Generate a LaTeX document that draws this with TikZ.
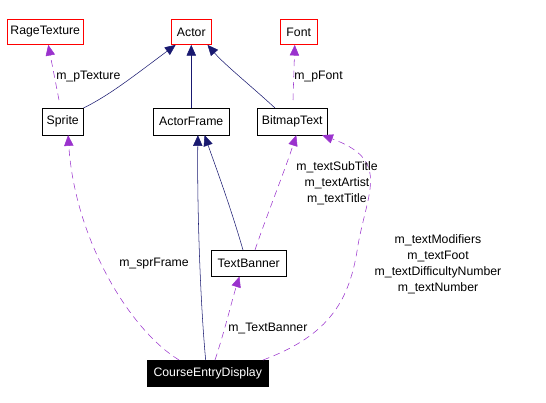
\documentclass[tikz,border=0pt]{standalone}
\usepackage{fontspec}
\setmainfont{Liberation Sans}
\usetikzlibrary{arrows.meta}
\definecolor{inh}{HTML}{191970}
\definecolor{use}{HTML}{9A32CD}
\begin{document}
\begin{tikzpicture}[x=0.75pt,y=-0.75pt,
  every node/.style={font=\fontsize{9.2}{12}\selectfont},
  cls/.style={draw=black,fill=white,inner sep=0pt,anchor=north west},
  ext/.style={cls,draw=red},
  mainc/.style={cls,fill=black,text=white},
  inhline/.style={draw=inh,thin,-{Triangle[length=8pt,width=7pt]}},
  useline/.style={draw=use,thin,dash pattern=on 5pt off 3.5pt,-{Triangle[length=8pt,width=7pt]}},
  lbl/.style={align=center,inner sep=0pt}]
\useasboundingbox (0,0) rectangle (546,403);
\node[ext,minimum width=57pt,minimum height=19pt] (rage) at (7,19) {RageTexture};
\node[ext,minimum width=30pt,minimum height=19pt] (actor) at (171,19) {Actor};
\node[ext,minimum width=27.75pt,minimum height=19pt] (font) at (280,19) {Font};
\node[cls,minimum width=30.75pt,minimum height=20pt] (sprite) at (42,108) {Sprite};
\node[cls,minimum width=57pt,minimum height=20pt] (aframe) at (153,108) {ActorFrame};
\node[cls,minimum width=52.5pt,minimum height=20pt] (btext) at (257,108) {BitmapText};
\node[cls,minimum width=56.25pt,minimum height=19.5pt] (tbanner) at (211,250) {TextBanner};
\node[mainc,minimum width=90.75pt,minimum height=19.5pt] (ced) at (147,360) {CourseEntryDisplay};
% inheritance
\draw[inhline] (sprite.north east) .. controls (110,95) and (135,75) .. ([xshift=3.5pt]actor.south west);
\draw[inhline] (aframe.north) -- (actor.south);
\draw[inhline] ([xshift=13.5pt]btext.north west) .. controls (250,85) and (225,65) .. ([xshift=-3pt]actor.south east);
\draw[inhline] ([xshift=44pt]ced.north west) .. controls (200,300) and (197,200) .. ([xshift=5pt]aframe.south);
\draw[inhline] ([xshift=24pt]tbanner.north west) .. controls (230,205) and (215,165) .. ([xshift=10pt]aframe.south);
% usage
\draw[useline] (59,100) -- ([xshift=2.25pt]rage.south);
\draw[useline] (293,100) -- ([xshift=-3pt]font.south);
\draw[useline] ([xshift=24pt]ced.north west) .. controls (130,330) and (75,240) .. ([xshift=4pt]sprite.south);
\draw[useline] ([xshift=51pt]ced.north west) .. controls (225,330) and (232,300) .. ([xshift=-7pt]tbanner.south);
\draw[useline] ([xshift=33pt]tbanner.north west) .. controls (265,220) and (285,170) .. ([xshift=3pt]btext.south);
\draw[useline] ([xshift=87pt]ced.north west) .. controls (330,335) and (350,300) .. (358,245) .. controls (368,190) and (390,160) .. ([xshift=-4pt]btext.south east);
% labels
\node[lbl,anchor=west] (l1) at (56,77) {m\_pTexture};
\node[lbl,anchor=west] (l2) at (294,77) {m\_pFont};
\node[lbl,anchor=west] (l3) at (119,264) {m\_sprFrame};
\node[lbl,anchor=west] (l4) at (228,328) {m\_TextBanner};
\node[lbl] (l5) at (337,183) {m\_textSubTitle\\m\_textArtist\\m\_textTitle};
\node[lbl] (l6) at (438,264) {m\_textModifiers\\m\_textFoot\\m\_textDifficultyNumber\\m\_textNumber};
\end{tikzpicture}
\end{document}
